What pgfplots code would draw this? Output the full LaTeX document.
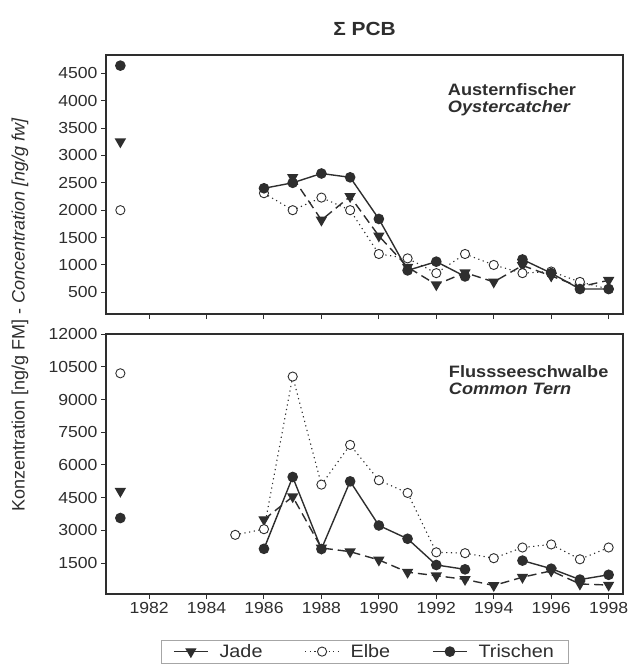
\documentclass[border=0pt]{standalone}
\usepackage{fontspec}
\setmainfont[FakeStretch=1.1]{Liberation Sans}
\newfontfamily\plainfont{Liberation Sans}
\usepackage{pgfplots}
\pgfplotsset{compat=1.18}
\definecolor{ink}{gray}{0.18}
\begin{document}
\begin{tikzpicture}
\pgfplotsset{
  panel/.style={
    scale only axis, width=517bp, xmin=1980.5, xmax=1998.5,
    xtick={1982,1984,...,1998},
    tick align=outside, tick pos=left,
    major tick length=5bp,
    scaled y ticks=false, scaled x ticks=false,
    axis line style={ink, line width=1.2bp},
    every tick/.style={ink, line width=1bp},
    tick label style={font=\fontsize{16bp}{18bp}\selectfont, text=ink},
    /pgf/number format/assume math mode=true,
    /pgf/number format/set thousands separator={},
    unbounded coords=jump,
    clip=false,
  },
  jade/.style={ink, line width=1.4bp, dash pattern=on 9bp off 5bp, mark=triangle*, mark size=5.2bp, mark options={solid, rotate=180, fill=ink, draw=ink},
    legend image code/.code={\draw[solid, mark repeat=2,mark phase=2] plot coordinates {(0bp,0bp) (17bp,0bp) (34bp,0bp)};}},
  elbe/.style={ink, line width=1.1bp, dash pattern=on 1.2bp off 3.5bp, mark=*, mark size=4.6bp, mark options={solid, fill=white, draw=ink, line width=0.9bp}},
  tri/.style={ink, line width=1.4bp, mark=*, mark size=4.6bp, mark options={solid, fill=ink, draw=ink}},
  legend image code/.code={\draw[mark repeat=2,mark phase=2] plot coordinates {(0bp,0bp) (17bp,0bp) (34bp,0bp)};},
}
\begin{axis}[panel, height=259bp, name=top, at={(0,0)}, anchor=north west,
  ymin=104, ymax=4834, ytick={500,1000,...,4500}, xticklabels={}]
\addplot[jade] table {
1981 3250
1982 nan
1987 2600
1988 1820
1989 2250
1990 1530
1991 960
1992 640
1993 860
1994 690
1995 990
1996 800
1997 600
1998 720
};
\addplot[elbe] table {
1981 2000
1982 nan
1986 2310
1987 2000
1988 2230
1989 2000
1990 1200
1991 1120
1992 850
1993 1200
1994 1000
1995 850
1996 880
1997 690
1998 560
};
\addplot[tri] table {
1981 4640
1982 nan
1986 2400
1987 2500
1988 2670
1989 2600
1990 1840
1991 900
1992 1060
1993 790
1994 nan
1995 1100
1996 850
1997 560
1998 560
};
\node[anchor=north west, align=left, inner sep=0, text=ink, font=\fontsize{16.5bp}{17.5bp}\selectfont\bfseries] at (rel axis cs:0.661,0.892) {Austernfischer\\\itshape Oystercatcher};
\end{axis}
\begin{axis}[panel, height=260bp, at={(0,-279bp)}, anchor=north west,
  ymin=90, ymax=12000, ytick={1500,3000,...,12000},
  legend columns=3,
  legend style={at={(0.5,-0.177)}, anchor=north, draw=gray!70, line width=0.6bp,
    font=\fontsize{18bp}{20bp}\selectfont, text=ink,
    /tikz/every odd column/.append style={column sep=9bp},
    /tikz/every even column/.append style={column sep=40bp},
    inner xsep=12bp, inner ysep=2bp},
  legend cell align=left]
\addplot[jade] table {
1981 4800
1982 nan
1986 3500
1987 4550
1988 2200
1989 2030
1990 1650
1991 1090
1992 930
1993 760
1994 480
1995 860
1996 1150
1997 550
1998 500
};
\addlegendentry{Jade}
\addplot[elbe] table {
1981 10200
1982 nan
1985 2800
1986 3060
1987 10050
1988 5100
1989 6920
1990 5300
1991 4720
1992 2000
1993 1960
1994 1730
1995 2220
1996 2360
1997 1680
1998 2220
};
\addlegendentry{Elbe}
\addplot[tri] table {
1981 3570
1982 nan
1986 2160
1987 5450
1988 2150
1989 5250
1990 3230
1991 2620
1992 1420
1993 1220
1994 nan
1995 1620
1996 1250
1997 750
1998 970
};
\addlegendentry{Trischen}
\node[anchor=north west, align=left, inner sep=0, text=ink, font=\fontsize{16.5bp}{17.5bp}\selectfont\bfseries] at (rel axis cs:0.663,0.881) {Flussseeschwalbe\\\itshape Common Tern};
\end{axis}
\node[font=\fontsize{19bp}{22bp}\selectfont\bfseries, text=ink] at (258.5bp,26bp) {Σ PCB};
\node[rotate=90, font=\plainfont\fontsize{18bp}{20bp}\selectfont, text=ink] at (-86bp,-259.5bp) {Konzentration [ng/g FM] - \textit{Concentration [ng/g fw]}};
\pgfresetboundingbox
\path (-106bp,55bp) rectangle (522bp,-613bp);
\end{tikzpicture}
\end{document}
